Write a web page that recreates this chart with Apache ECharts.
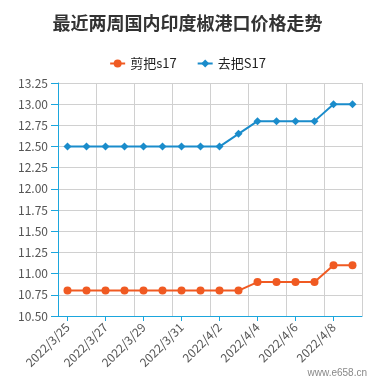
<!DOCTYPE html>
<html>
<head>
<meta charset="utf-8">
<script src="https://cdn.jsdelivr.net/npm/echarts@6/dist/echarts.min.js"></script>
<style>
  html, body { margin: 0; padding: 0; background: #fff; }
  #chart { width: 375px; height: 386px; }
</style>
</head>
<body>
<div id="chart"></div>
<script>
// dates for the last two weeks
const dates = [
  "2022/3/25", "2022/3/26", "2022/3/27", "2022/3/28", "2022/3/29", "2022/3/30",
  "2022/3/31", "2022/4/1", "2022/4/2", "2022/4/3", "2022/4/4", "2022/4/5",
  "2022/4/6", "2022/4/7", "2022/4/8", "2022/4/9"
];
const cutS17 = [10.8, 10.8, 10.8, 10.8, 10.8, 10.8, 10.8, 10.8, 10.8, 10.8, 10.9, 10.9, 10.9, 10.9, 11.1, 11.1];
const stemlessS17 = [12.5, 12.5, 12.5, 12.5, 12.5, 12.5, 12.5, 12.5, 12.5, 12.65, 12.8, 12.8, 12.8, 12.8, 13.0, 13.0];

const font = "'Noto Sans CJK SC', sans-serif";
const axisBlue = "#1ba6dd";

const chart = echarts.init(document.getElementById("chart"));
chart.setOption({
  animation: false,
  title: {
    text: "最近两周国内印度椒港口价格走势",
    left: "center",
    top: 9,
    textStyle: { fontFamily: font, fontSize: 18, fontWeight: "bold", color: "#333" }
  },
  legend: {
    top: 52,
    left: "center",
    itemGap: 20,
    itemWidth: 15,
    itemHeight: 10,
    textStyle: { fontFamily: font, fontSize: 13, color: "#222" },
    data: ["剪把s17", "去把S17"]
  },
  graphic: [{
    type: "text",
    right: 8,
    bottom: 8,
    style: { text: "www.e658.cn", fill: "#888", font: "10px sans-serif" }
  }],
  grid: { left: 58, right: 13, top: 83, bottom: 70 },
  xAxis: {
    type: "category",
    data: dates,
    boundaryGap: true,
    axisLine: { lineStyle: { color: axisBlue, width: 1 } },
    axisTick: { show: true, alignWithLabel: true, interval: 1, length: 5, lineStyle: { color: axisBlue } },
    axisLabel: { interval: 1, rotate: 45, fontFamily: font, fontSize: 12, color: "#555", margin: 9 },
    splitLine: { show: true, interval: 1, lineStyle: { color: "#d0d0d0" } }
  },
  yAxis: {
    type: "value",
    min: 10.5,
    max: 13.25,
    interval: 0.25,
    axisLine: { show: true, lineStyle: { color: axisBlue } },
    axisTick: { show: true, length: 7, lineStyle: { color: axisBlue } },
    axisLabel: { fontFamily: font, fontSize: 12, color: "#555", margin: 10, formatter: v => v.toFixed(2) },
    splitLine: { lineStyle: { color: "#d0d0d0" } }
  },
  series: [
    {
      name: "剪把s17",
      type: "line",
      data: cutS17,
      symbol: "circle",
      symbolSize: 8,
      lineStyle: { color: "#f05a22", width: 2 },
      itemStyle: { color: "#f05a22" }
    },
    {
      name: "去把S17",
      type: "line",
      data: stemlessS17,
      symbol: "diamond",
      symbolSize: 8,
      lineStyle: { color: "#1a8ccb", width: 2 },
      itemStyle: { color: "#1a8ccb" }
    }
  ]
});
</script>
</body>
</html>
